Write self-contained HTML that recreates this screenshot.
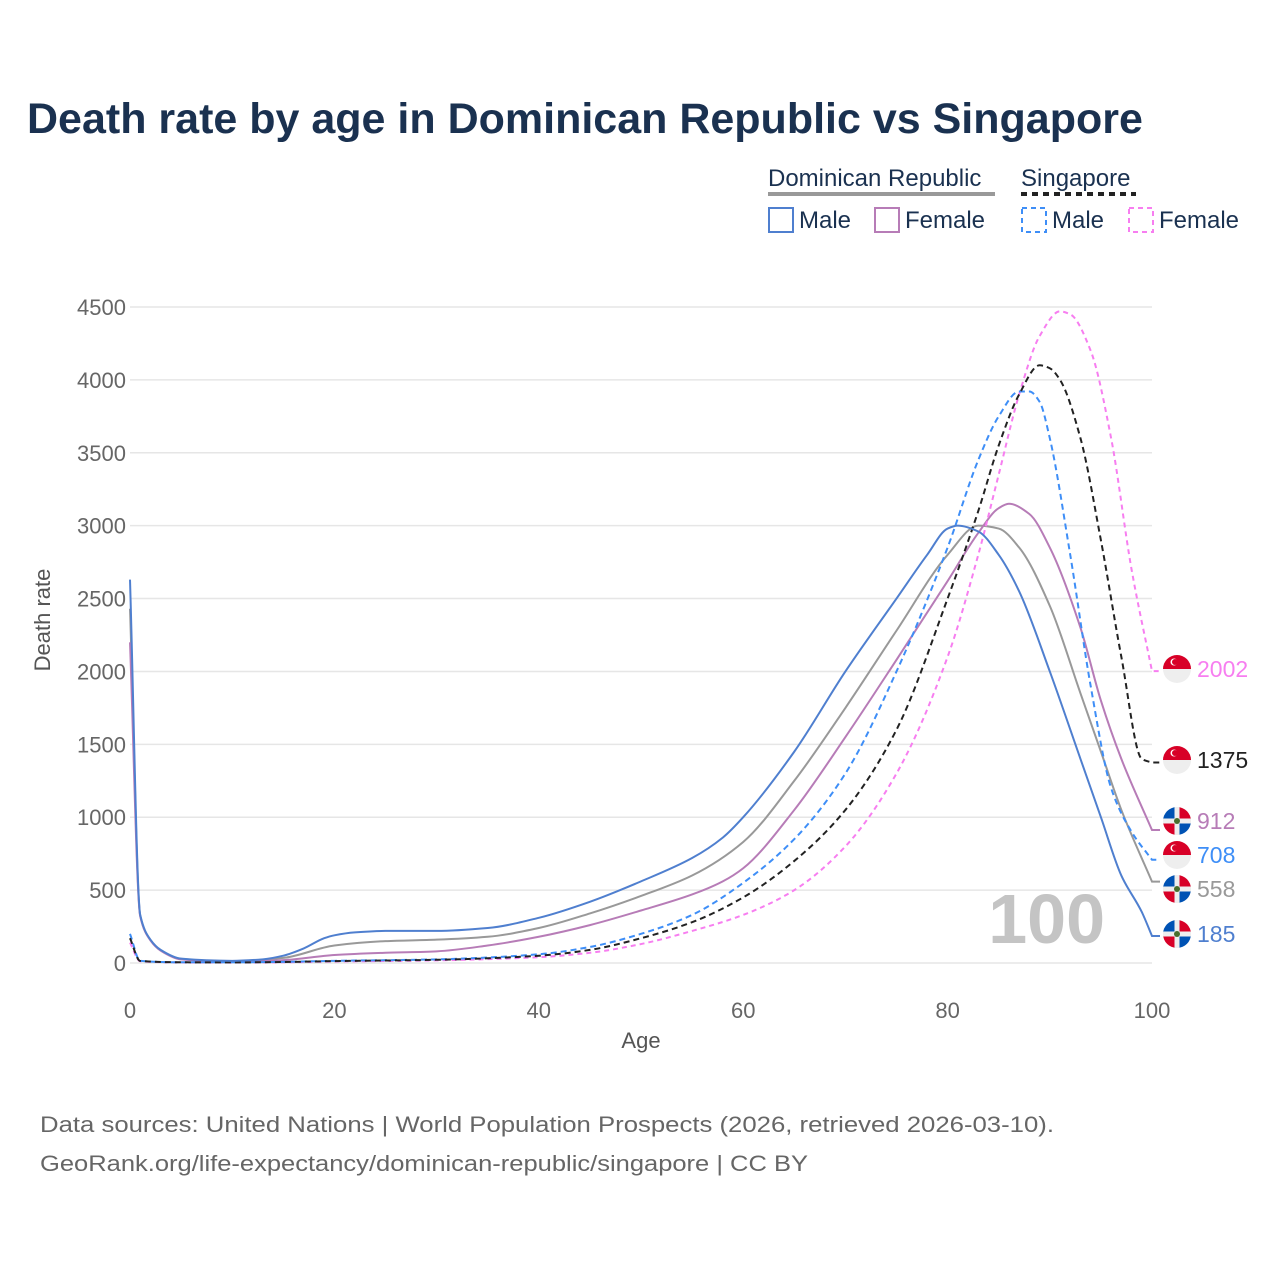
<!DOCTYPE html>
<html><head><meta charset="utf-8">
<style>
html,body{margin:0;padding:0;background:#fff;}
body{width:1280px;height:1280px;overflow:hidden;font-family:"Liberation Sans",sans-serif;}
</style></head>
<body>
<svg id="chart" width="1280" height="1280" viewBox="0 0 1280 1280" xmlns="http://www.w3.org/2000/svg">
<text x="27" y="133" font-size="43" font-weight="bold" fill="#1a3150">Death rate by age in Dominican Republic vs Singapore</text>
<g font-size="24" fill="#1a3150">
  <text x="768" y="186">Dominican Republic</text>
  <line x1="768" y1="194" x2="995" y2="194" stroke="#999" stroke-width="4"/>
  <text x="1021" y="186">Singapore</text>
  <line x1="1021" y1="194" x2="1136" y2="194" stroke="#222" stroke-width="4" stroke-dasharray="6,5"/>
  <g><rect x="769" y="208" width="24" height="24" fill="none" stroke="#4f7fcf" stroke-width="2"/><text x="799" y="228">Male</text></g>
  <g><rect x="875" y="208" width="24" height="24" fill="none" stroke="#b77cb7" stroke-width="2"/><text x="905" y="228">Female</text></g>
  <g><rect x="1022" y="208" width="24" height="24" fill="none" stroke="#3e8ef7" stroke-width="2" stroke-dasharray="5,4"/><text x="1052" y="228">Male</text></g>
  <g><rect x="1129" y="208" width="24" height="24" fill="none" stroke="#f77ef0" stroke-width="2" stroke-dasharray="5,4"/><text x="1159" y="228">Female</text></g>
</g>
<g id="grid"></g>
<g id="axes"></g>
<text x="1105" y="943" font-size="70" font-weight="bold" fill="#c4c4c4" text-anchor="end">100</text>
<g id="series"></g>
<g id="endlabels"></g>
<text x="50" y="620" font-size="22" fill="#555" text-anchor="middle" transform="rotate(-90 50 620)">Death rate</text>
<text x="641" y="1048" font-size="22" fill="#555" text-anchor="middle">Age</text>
<text x="40" y="1132" font-size="22" fill="#666" textLength="1014" lengthAdjust="spacingAndGlyphs">Data sources: United Nations | World Population Prospects (2026, retrieved 2026-03-10).</text>
<text x="40" y="1171" font-size="22" fill="#666" textLength="768" lengthAdjust="spacingAndGlyphs">GeoRank.org/life-expectancy/dominican-republic/singapore | CC BY</text>
</svg>
<script>
const yTicks = [0,500,1000,1500,2000,2500,3000,3500,4000,4500];
const xTicks = [0,20,40,60,80,100];
const drMaleAges = [0,1,2,3,5,10,13,15,17,19,20,22,25,30,35,40,45,50,55,58,60,65,70,75,78,80,81,83,85,87,90,93,95,97,99,100];
const drMaleVals = [2630,330,160,90,30,15,25,50,100,170,190,210,220,220,240,310,420,560,720,860,1000,1450,2000,2500,2800,2980,3000,2960,2800,2550,2000,1400,1000,600,350,185];
const drFemaleAges = [0,1,2,3,5,10,15,20,25,30,35,40,45,50,55,58,60,65,70,75,80,83,85,86,88,90,93,95,97,100];
const drFemaleVals = [2200,320,155,85,25,10,20,55,70,80,120,180,260,360,470,560,650,1050,1550,2080,2620,2950,3120,3150,3080,2850,2300,1800,1400,912];
const drBothAges = [0,1,2,3,5,10,15,20,25,30,35,40,45,50,55,60,65,70,75,80,83,85,87,90,93,95,97,100];
const drBothVals = [2430,325,158,88,28,12,35,120,150,160,180,240,340,460,600,830,1250,1750,2280,2800,3000,2980,2850,2450,1850,1450,1050,558];
const sgMaleAges = [0,1,5,10,15,20,30,40,45,50,55,60,65,70,75,80,83,85,87,88,89,90,92,94,96,98,100];
const sgMaleVals = [200,15,5,5,8,15,25,60,110,200,330,550,850,1300,2000,2850,3450,3750,3920,3920,3850,3600,2800,1900,1200,900,708];
const sgBothAges = [0,1,5,10,15,20,30,40,45,50,55,60,65,70,75,80,83,85,87,89,90,91,93,95,97,99,100];
const sgBothVals = [170,14,5,4,7,13,22,50,90,170,280,450,700,1050,1600,2500,3100,3550,3900,4100,4080,4000,3600,2900,2100,1400,1375];
const sgFemaleAges = [0,1,5,10,15,20,30,40,45,50,55,60,65,70,75,80,83,85,87,89,91,92,94,96,98,100];
const sgFemaleVals = [140,12,4,3,5,10,18,40,70,130,220,330,500,800,1300,2100,2800,3350,3900,4300,4470,4450,4200,3600,2700,2002];

const NS='http://www.w3.org/2000/svg';
const X0=130,X1=1152,Y0=963,Y1=307;
const xs=a=>X0+(a/100)*(X1-X0);
const ys=v=>Y0-(v/4500)*(Y0-Y1);
function mk(tag,attrs,parent){const e=document.createElementNS(NS,tag);for(const k in attrs)e.setAttribute(k,attrs[k]);parent.appendChild(e);return e;}
const grid=document.getElementById('grid'),axes=document.getElementById('axes');
yTicks.forEach(t=>{
  const l=mk('line',{x1:X0,x2:X1,y1:ys(t),y2:ys(t),stroke:'#e6e6e6','stroke-width':1.5},grid);
  
  
  const tx=mk('text',{x:126,y:ys(t)+8,'font-size':22,fill:'#666','text-anchor':'end'},axes);
  tx.textContent=t;
  
  
});
xTicks.forEach(t=>{
  const tx=mk('text',{x:xs(t),y:1018,'font-size':22,fill:'#666','text-anchor':'middle'},axes);
  tx.textContent=t;
  
  
});
function pathD(ages,vals){
  const x=ages.map(xs),y=vals.map(ys),n=x.length;
  const d=[],m=new Array(n);
  for(let i=0;i<n-1;i++)d.push((y[i+1]-y[i])/(x[i+1]-x[i]));
  m[0]=d[0];m[n-1]=d[n-2];
  for(let i=1;i<n-1;i++){
    if(d[i-1]*d[i]<=0)m[i]=0;
    else{const h0=x[i]-x[i-1],h1=x[i+1]-x[i];const w1=2*h1+h0,w2=h1+2*h0;m[i]=(w1+w2)/(w1/d[i-1]+w2/d[i]);}
  }
  let s='M'+x[0]+','+y[0];
  for(let i=0;i<n-1;i++){
    const h=(x[i+1]-x[i])/3;
    s+=' C'+(x[i]+h)+','+(y[i]+m[i]*h)+' '+(x[i+1]-h)+','+(y[i+1]-m[i+1]*h)+' '+x[i+1]+','+y[i+1];
  }
  s+=' L'+(X1+8)+','+y[n-1];
  return s;
}
const sg=document.getElementById('series');
const defs=[
 ['series-dr-both',drBothAges,drBothVals,'#999',''],
 ['series-dr-female',drFemaleAges,drFemaleVals,'#b77cb7',''],
 ['series-sg-female',sgFemaleAges,sgFemaleVals,'#f77ef0','5,4'],
 ['series-sg-male',sgMaleAges,sgMaleVals,'#3e8ef7','6,4'],
 ['series-sg-both',sgBothAges,sgBothVals,'#222','6,4'],
 ['series-dr-male',drMaleAges,drMaleVals,'#4f7fcf','']
];
defs.forEach(s=>{
  const p=mk('path',{d:pathD(s[1],s[2]),fill:'none',stroke:s[3],'stroke-width':2,'stroke-dasharray':s[4]},sg);
  
  
});
const el=document.getElementById('endlabels');
const labels=[
 [669,sgFemaleVals[sgFemaleVals.length-1],'#f77ef0','sg'],
 [760,sgBothVals[sgBothVals.length-1],'#222','sg'],
 [821,drFemaleVals[drFemaleVals.length-1],'#b77cb7','dr'],
 [855,sgMaleVals[sgMaleVals.length-1],'#3e8ef7','sg'],
 [889,drBothVals[drBothVals.length-1],'#999','dr'],
 [934,drMaleVals[drMaleVals.length-1],'#4f7fcf','dr']
];
labels.forEach(l=>{
  const g=mk('g',{},el);
  
  
  const cx=1177,cy=l[0],r=14;
  if(l[3]==='sg'){
    mk('circle',{cx:cx,cy:cy,r:r,fill:'#eee'},g);
    mk('path',{d:`M${cx-r},${cy} A${r},${r} 0 0 1 ${cx+r},${cy} Z`,fill:'#d80027'},g);
    mk('circle',{cx:cx-3,cy:cy-7,r:3.5,fill:'#fff'},g);
    mk('circle',{cx:cx-2,cy:cy-7,r:3,fill:'#d80027'},g);
  } else {
    mk('circle',{cx:cx,cy:cy,r:r,fill:'#eee'},g);
    mk('path',{d:`M${cx},${cy} L${cx},${cy-r} A${r},${r} 0 0 0 ${cx-r},${cy} Z`,fill:'#0052b4'},g);
    mk('path',{d:`M${cx},${cy} L${cx},${cy+r} A${r},${r} 0 0 0 ${cx+r},${cy} Z`,fill:'#0052b4'},g);
    mk('path',{d:`M${cx},${cy} L${cx+r},${cy} A${r},${r} 0 0 0 ${cx},${cy-r} Z`,fill:'#d80027'},g);
    mk('path',{d:`M${cx},${cy} L${cx-r},${cy} A${r},${r} 0 0 0 ${cx},${cy+r} Z`,fill:'#d80027'},g);
    mk('rect',{x:cx-r,y:cy-2.5,width:2*r,height:5,fill:'#eee'},g);
    mk('rect',{x:cx-2.5,y:cy-r,width:5,height:2*r,fill:'#eee'},g);
    mk('circle',{cx:cx,cy:cy,r:3,fill:'#496e2d'},g);
  }
  const t=mk('text',{x:1197,y:cy+8,'font-size':23,fill:l[2]},g);
  t.textContent=l[1];
});
</script>
</body></html>
